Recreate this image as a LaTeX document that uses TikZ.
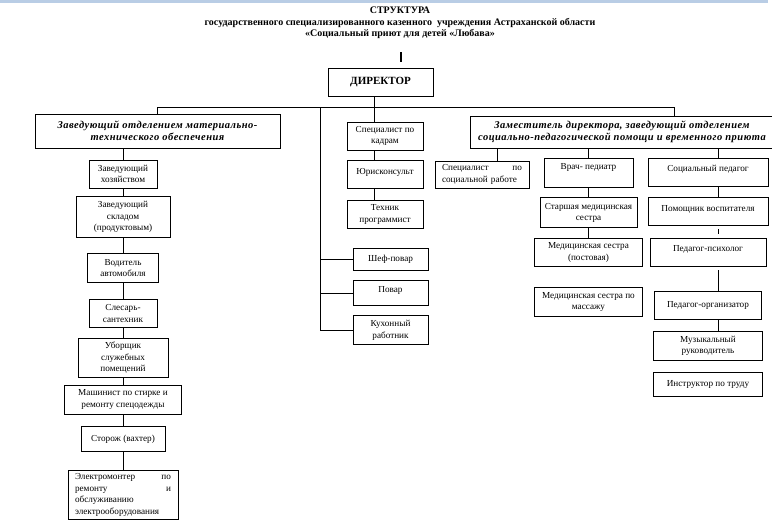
\documentclass[tikz,border=0pt]{standalone}
\usepackage{fontspec}
\setmainfont{Liberation Serif}
\newfontfamily\headfont[LetterSpace=4.5]{Liberation Serif}
\usetikzlibrary{positioning}
\definecolor{barblue}{RGB}{185,205,229}

\begin{document}
\begin{tikzpicture}[x=1pt,y=1pt,line width=0.8pt,
  box/.style={draw,rectangle,fill=white,inner sep=2pt,align=center,font=\fontsize{9.2}{11.5}\selectfont},
  head/.style={draw,rectangle,fill=white,inner sep=2pt,align=center,font=\headfont\fontsize{10.5}{12.5}\selectfont\bfseries\itshape},
  title/.style={inner sep=0pt,font=\fontsize{10}{12}\selectfont\bfseries},
  liftbox/.style={text height=6.5pt,text depth=8pt},
  topbox/.style={text height=6.5pt,text depth=12pt}]
\useasboundingbox (0,0) rectangle (772,-522);
\fill[barblue] (0,0) rectangle (768,-3);

\node[title] (title_1) at (400,-10) {СТРУКТУРА};
\node[title] (title_2) at (400,-23) {государственного специализированного казенного~ учреждения Астраханской области};
\node[title] (title_3) at (400,-34) {«Социальный приют для детей «Любава»};
\coordinate (mark) at (401,-52);
\draw[line width=1.8pt] (mark) -- ++(0,-10);

\node[box,minimum width=105pt,minimum height=28pt,font=\fontsize{11}{13}\selectfont\bfseries] (dir) at (380.5,-82) {ДИРЕКТОР};

\node[head,minimum width=245pt,minimum height=34pt] (head_l) at (157.5,-131) {Заведующий отделением материально-\\технического обеспечения};
\node[head,minimum width=304pt,minimum height=32pt] (head_r) at (622,-132) {Заместитель директора, заведующий отделением\\социально-педагогической помощи и временного приюта};

% left column
\node[box,minimum width=68pt,minimum height=28pt] (m_1) at (123,-174) {Заведующий\\хозяйством};
\node[box,minimum width=94pt,minimum height=41pt,below=8pt of m_1] (m_2) {Заведующий\\складом\\(продуктовым)};
\node[box,minimum width=71pt,minimum height=29pt,below=15pt of m_2] (m_3) {Водитель\\автомобиля};
\node[box,minimum width=68pt,minimum height=28pt,below=16pt of m_3] (m_4) {Слесарь-\\сантехник};
\node[box,minimum width=90pt,minimum height=39pt,below=10pt of m_4] (m_5) {Уборщик\\служебных\\помещений};
\node[box,minimum width=117pt,minimum height=29pt,below=7pt of m_5] (m_6) {Машинист по стирке и\\ремонту спецодежды};
\node[box,minimum width=84pt,minimum height=25pt,below=12pt of m_6] (m_7) {Сторож (вахтер)};
\node[box,minimum height=49pt,text width=96pt,align=left,inner xsep=7pt,below=18pt of m_7] (m_8) {Электромонтер\hfill по\\ремонту\hfill и\\обслуживанию\\электрооборудования};

% middle
\coordinate (spine) at (374,-96);
\node[box,minimum width=76pt,minimum height=28pt] (s_1) at (385,-136) {Специалист по\\кадрам};
\node[box,liftbox,minimum width=76pt,minimum height=28pt,below=10pt of s_1] (s_2) {Юрисконсульт};
\node[box,minimum width=76pt,minimum height=28pt,below=11pt of s_2] (s_3) {Техник\\программист};
\node[box,minimum width=75pt,minimum height=22pt] (k_1) at (390.5,-259) {Шеф-повар};
\node[box,liftbox,minimum width=75pt,minimum height=25pt,below=10pt of k_1] (k_2) {Повар};
\node[box,minimum width=75pt,minimum height=29pt,below=9pt of k_2] (k_3) {Кухонный\\работник};

% right
\node[box,minimum height=27pt,text width=80pt,align=left,inner xsep=7pt] (r_1) at (482,-174.5) {Специалист\hfill по\\социальной работе};
\node[box,topbox,minimum width=89pt,minimum height=29pt] (d_1) at (588.5,-172.5) {Врач- педиатр};
\node[box,minimum width=97pt,minimum height=30pt,below=10pt of d_1] (d_2) {Старшая медицинская\\сестра};
\node[box,minimum width=108pt,minimum height=28pt,below=10pt of d_2] (d_3) {Медицинская сестра\\(постовая)};
\node[box,minimum width=108pt,minimum height=29pt,below=20pt of d_3] (d_4) {Медицинская сестра по\\массажу};
\node[box,liftbox,minimum width=120pt,minimum height=28pt] (p_1) at (708,-172) {Социальный педагог};
\node[box,liftbox,minimum width=120pt,minimum height=28pt,below=11pt of p_1] (p_2) {Помощник воспитателя};
\node[box,liftbox,minimum width=116pt,minimum height=28pt,below=12pt of p_2] (p_3) {Педагог-психолог};
\node[box,minimum width=107pt,minimum height=28pt,below=24pt of p_3] (p_4) {Педагог-организатор};
\node[box,minimum width=109pt,minimum height=29pt,below=11pt of p_4] (p_5) {Музыкальный\\руководитель};
\node[box,minimum width=109pt,minimum height=24pt,below=11pt of p_5] (p_6) {Инструктор по труду};

\coordinate (bus_l) at (157,-107);
\coordinate (bus_k) at (320,-107);
\coordinate (bus_r) at (674,-107);
\coordinate (drop_s) at (497,-148);
\coordinate (col_p) at (718,-148);

\draw (head_l.north -| bus_l) |- (bus_r) -- (head_r.north -| bus_r);
\draw (dir.south -| spine) -- (s_1.north -| spine);
\draw (bus_k) |- (k_3);
\path (bus_k |- k_1) edge (k_1)
      (bus_k |- k_2) edge (k_2);
\path (head_l.south -| m_1) edge (m_1)
      (m_1) edge (m_2) (m_2) edge (m_3) (m_3) edge (m_4) (m_4) edge (m_5)
      (m_5) edge (m_6) (m_6) edge (m_7) (m_7) edge (m_8);
\path (s_1.south -| spine) edge (s_2.north -| spine)
      (s_2.south -| spine) edge (s_3.north -| spine);
\path (head_r.south -| drop_s) edge (r_1.north -| drop_s)
      (head_r.south -| d_1) edge (d_1)
      (d_1) edge (d_2) (d_2) edge (d_3);
\path (head_r.south -| col_p) edge (p_1.north -| col_p)
      (p_1.south -| col_p) edge (p_2.north -| col_p)
      (p_2.south -| col_p) edge[shorten <=3pt,shorten >=4pt] (p_3.north -| col_p)
      (p_3.south -| col_p) edge[shorten <=3pt] (p_4.north -| col_p)
      (p_4.south -| col_p) edge (p_5.north -| col_p);
\end{tikzpicture}
\end{document}
